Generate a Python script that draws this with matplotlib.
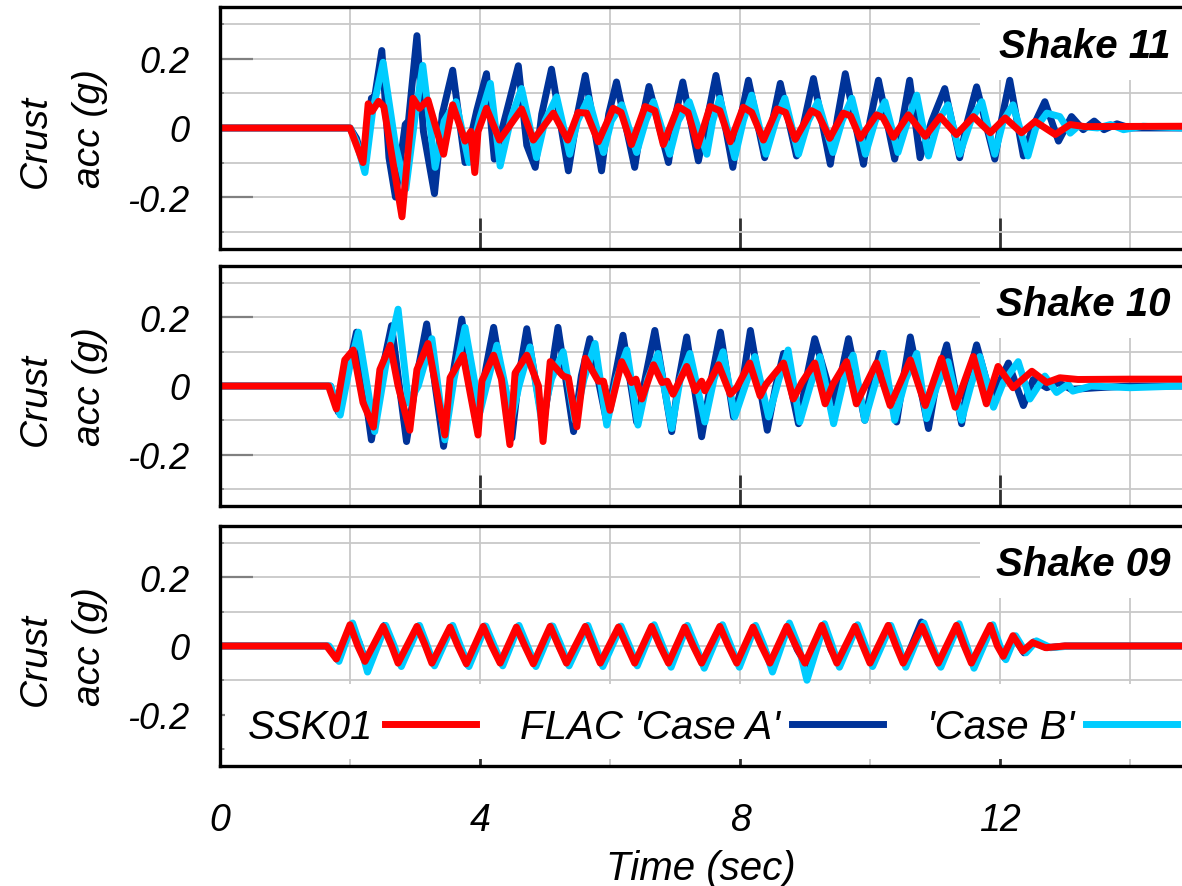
import matplotlib
matplotlib.use("Agg")
import matplotlib.pyplot as plt
from matplotlib.lines import Line2D
from matplotlib.patches import Rectangle

plt.rcParams['font.family'] = ['Liberation Sans', 'DejaVu Sans']
plt.rcParams['axes.unicode_minus'] = False

# (time sec, acceleration g), peaks and troughs
s11_ssk = [(0, 0), (2.0, 0), (2.2, -0.10), (2.28, 0.07), (2.34, 0.048), (2.44, 0.077), (2.52, 0.062),
           (2.80, -0.257), (2.97, 0.086), (3.07, 0.057), (3.2, 0.081), (3.44, -0.076), (3.58, 0.067),
           (3.77, -0.038), (3.86, -0.01), (3.92, -0.129), (3.97, -0.01), (4.1, 0.057), (4.3, -0.035),
           (4.64, 0.055), (4.82, -0.035), (5.13, 0.043), (5.35, -0.035), (5.51, 0.045), (5.64, 0.043),
           (5.82, -0.04), (6.05, 0.057), (6.17, 0.045), (6.33, -0.048), (6.54, 0.062), (6.69, 0.05),
           (6.82, -0.048), (7.05, 0.062), (7.2, 0.045), (7.35, -0.052), (7.54, 0.062), (7.69, 0.05),
           (7.85, -0.04), (8.05, 0.06), (8.18, 0.045), (8.36, -0.035), (8.57, 0.055), (8.7, 0.045),
           (8.85, -0.033), (9.1, 0.05), (9.2, 0.04), (9.38, -0.03), (9.59, 0.043), (9.7, 0.035),
           (9.85, -0.03), (10.1, 0.038), (10.2, 0.03), (10.36, -0.027), (10.59, 0.038), (10.85, -0.024),
           (11.08, 0.033), (11.33, -0.019), (11.59, 0.033), (11.85, -0.014), (12.08, 0.029), (12.33, -0.014),
           (12.54, 0.019), (12.85, -0.019), (13.08, 0.01), (13.3, 0.004), (14.8, 0.005)]
s11_caseA = [(0, 0), (2.0, 0), (2.1, -0.03), (2.23, -0.114), (2.33, 0.086), (2.38, 0.09), (2.49, 0.224),
             (2.6, -0.086), (2.7, -0.2), (2.85, 0.01), (2.9, 0.02), (3.03, 0.267), (3.13, -0.01), (3.3, -0.19),
             (3.42, 0.04), (3.58, 0.167), (3.77, -0.1), (3.95, 0.05), (4.1, 0.157), (4.22, -0.09), (4.4, 0.04),
             (4.59, 0.18), (4.72, -0.05), (4.85, -0.114), (4.95, 0.04), (5.1, 0.17), (5.36, -0.124), (5.5, 0.04),
             (5.62, 0.152), (5.87, -0.124), (5.98, 0.04), (6.1, 0.133), (6.38, -0.114), (6.5, 0.03), (6.6, 0.12),
             (6.9, -0.1), (7.0, 0.03), (7.12, 0.133), (7.36, -0.095), (7.5, 0.03), (7.63, 0.152), (7.89, -0.114),
             (8.0, 0.02), (8.13, 0.138), (8.38, -0.086), (8.5, 0.02), (8.62, 0.129), (8.87, -0.081), (9.0, 0.03),
             (9.13, 0.143), (9.39, -0.105), (9.5, 0.03), (9.62, 0.157), (9.9, -0.105), (10.0, 0.02), (10.13, 0.138),
             (10.38, -0.09), (10.5, 0.02), (10.61, 0.138), (10.77, -0.086), (10.95, 0.02), (11.15, 0.114),
             (11.38, -0.086), (11.5, 0.02), (11.64, 0.119), (11.92, -0.09), (12.02, 0.02), (12.15, 0.138),
             (12.36, -0.081), (12.5, 0.0), (12.69, 0.076), (12.9, -0.038), (13.1, 0.033), (13.28, -0.005),
             (13.45, 0.02), (13.6, -0.005), (13.8, 0.012), (14.0, 0.0), (14.8, 0.0)]
s11_caseB = [(0, 0), (2.0, 0), (2.1, -0.04), (2.23, -0.129), (2.35, 0.05), (2.51, 0.19), (2.7, -0.05),
             (2.86, -0.176), (3.0, 0.03), (3.12, 0.181), (3.31, -0.114), (3.45, 0.02), (3.63, 0.076), (3.83, -0.1),
             (4.0, 0.03), (4.16, 0.129), (4.31, -0.11), (4.48, 0.03), (4.64, 0.114), (4.87, -0.086), (5.0, 0.02),
             (5.18, 0.09), (5.38, -0.076), (5.5, 0.02), (5.67, 0.086), (5.9, -0.071), (6.02, 0.02), (6.18, 0.067),
             (6.41, -0.071), (6.55, 0.02), (6.67, 0.076), (6.92, -0.076), (7.05, 0.02), (7.22, 0.076),
             (7.49, -0.076), (7.58, 0.02), (7.69, 0.086), (7.92, -0.086), (8.05, 0.02), (8.18, 0.095),
             (8.4, -0.076), (8.55, 0.02), (8.69, 0.086), (8.9, -0.076), (9.05, 0.02), (9.2, 0.076), (9.43, -0.071),
             (9.57, 0.02), (9.72, 0.086), (9.93, -0.076), (10.08, 0.02), (10.23, 0.076), (10.43, -0.071),
             (10.58, 0.02), (10.72, 0.095), (10.9, -0.081), (11.05, 0.02), (11.2, 0.067), (11.38, -0.076),
             (11.55, 0.02), (11.72, 0.076), (11.92, -0.076), (12.05, 0.02), (12.2, 0.067), (12.43, -0.081),
             (12.55, 0.0), (12.72, 0.043), (12.92, 0.033), (13.08, -0.015), (13.2, 0.005), (13.5, 0.0),
             (13.7, 0.01), (13.9, -0.005), (14.2, 0.005), (14.8, 0.0)]

s10_ssk = [(0, 0), (1.67, 0), (1.79, -0.067), (1.92, 0.076), (2.05, 0.105), (2.2, -0.048), (2.36, -0.12),
           (2.46, 0.048), (2.62, 0.119), (2.74, 0.0), (2.92, -0.129), (3.03, 0.048), (3.2, 0.124), (3.33, -0.01),
           (3.46, -0.143), (3.54, 0.024), (3.74, 0.09), (3.97, -0.143), (4.03, 0.015), (4.21, 0.09), (4.33, 0.02),
           (4.46, -0.171), (4.54, 0.038), (4.72, 0.09), (4.9, 0.0), (4.97, -0.162), (5.08, 0.071), (5.28, 0.029),
           (5.36, 0.024), (5.49, -0.119), (5.62, 0.081), (5.82, 0.014), (5.9, 0.014), (6.0, -0.071), (6.18, 0.071),
           (6.33, 0.01), (6.4, 0.02), (6.49, -0.038), (6.67, 0.062), (6.8, 0.01), (6.88, 0.014), (6.97, -0.024),
           (7.18, 0.057), (7.31, -0.014), (7.41, 0.014), (7.46, -0.014), (7.67, 0.062), (7.85, -0.024),
           (7.95, -0.005), (8.15, 0.067), (8.31, -0.029), (8.4, 0.005), (8.67, 0.067), (8.82, -0.038), (8.95, 0.01),
           (9.15, 0.067), (9.31, -0.052), (9.43, 0.005), (9.64, 0.071), (9.79, -0.052), (10.1, 0.067),
           (10.31, -0.057), (10.62, 0.076), (10.85, -0.057), (11.1, 0.081), (11.31, -0.062), (11.59, 0.086),
           (11.79, -0.052), (11.97, 0.057), (12.2, -0.005), (12.49, 0.043), (12.72, 0.01), (12.92, 0.024),
           (13.2, 0.019), (14.0, 0.02), (14.8, 0.02)]
s10_caseA = [(0, 0), (1.7, 0), (1.82, -0.076), (1.98, 0.05), (2.1, 0.157), (2.33, -0.157), (2.5, 0.05),
             (2.64, 0.176), (2.87, -0.162), (3.02, 0.02), (3.18, 0.181), (3.44, -0.176), (3.58, 0.03), (3.72, 0.195),
             (3.95, -0.114), (4.06, 0.02), (4.21, 0.171), (4.49, -0.152), (4.6, 0.03), (4.72, 0.167), (4.97, -0.114),
             (5.08, 0.02), (5.2, 0.171), (5.44, -0.133), (5.56, 0.03), (5.69, 0.138), (5.95, -0.105), (6.08, 0.03),
             (6.2, 0.148), (6.41, -0.105), (6.55, 0.03), (6.69, 0.162), (6.95, -0.133), (7.06, 0.02), (7.18, 0.143),
             (7.41, -0.148), (7.56, 0.02), (7.7, 0.157), (7.9, -0.09), (8.03, 0.0), (8.16, 0.162), (8.42, -0.129),
             (8.55, 0.0), (8.67, 0.095), (8.9, -0.11), (9.02, 0.02), (9.15, 0.138), (9.44, -0.05), (9.55, 0.03),
             (9.67, 0.138), (9.92, -0.1), (10.05, 0.02), (10.15, 0.095), (10.41, -0.105), (10.52, 0.03),
             (10.62, 0.143), (10.9, -0.124), (11.04, 0.03), (11.18, 0.12), (11.41, -0.11), (11.52, 0.03),
             (11.64, 0.12), (11.87, -0.038), (12.13, 0.067), (12.36, -0.057), (12.51, 0.019), (12.72, -0.005),
             (12.9, 0.01), (13.1, -0.01), (13.5, -0.005), (14.0, 0.0), (14.8, 0.0)]
s10_caseB = [(0, 0), (1.7, 0), (1.85, -0.085), (2.0, 0.06), (2.13, 0.157), (2.38, -0.133), (2.55, 0.06),
             (2.74, 0.224), (2.9, -0.05), (3.05, 0.0), (3.26, 0.138), (3.46, -0.157), (3.6, 0.02), (3.77, 0.171),
             (4.0, -0.076), (4.1, 0.0), (4.26, 0.119), (4.49, -0.095), (4.6, 0.0), (4.77, 0.114), (4.95, -0.105),
             (5.1, 0.02), (5.28, 0.1), (5.46, -0.1), (5.6, 0.02), (5.77, 0.124), (5.95, -0.114), (6.1, 0.02),
             (6.26, 0.105), (6.43, -0.114), (6.58, 0.02), (6.74, 0.095), (6.95, -0.124), (7.08, 0.02), (7.23, 0.095),
             (7.46, -0.105), (7.6, 0.02), (7.74, 0.1), (7.92, -0.09), (8.08, 0.0), (8.23, 0.086), (8.44, -0.09),
             (8.6, 0.02), (8.74, 0.105), (8.92, -0.105), (9.08, 0.0), (9.23, 0.086), (9.44, -0.11), (9.6, 0.02),
             (9.74, 0.09), (9.92, -0.1), (10.07, 0.0), (10.21, 0.095), (10.38, -0.1), (10.55, 0.02), (10.72, 0.095),
             (10.87, -0.095), (11.03, 0.0), (11.2, 0.071), (11.41, -0.1), (11.55, 0.0), (11.69, 0.086),
             (11.9, -0.062), (12.05, 0.01), (12.28, 0.071), (12.46, -0.038), (12.69, 0.029), (12.87, -0.019),
             (13.05, 0.005), (13.12, -0.015), (13.4, 0.0), (14.0, -0.005), (14.8, 0.0)]

s09_ssk = [(0, 0), (1.64, 0), (1.79, -0.038), (2.0, 0.062), (2.12, 0.0), (2.23, -0.045), (2.51, 0.057),
           (2.64, 0.0), (2.74, -0.05), (3.03, 0.057), (3.15, 0.005), (3.26, -0.05), (3.54, 0.055), (3.66, 0.0),
           (3.79, -0.052), (4.05, 0.057), (4.18, 0.0), (4.31, -0.05), (4.56, 0.055), (4.69, 0.0), (4.82, -0.052),
           (5.08, 0.057), (5.21, 0.0), (5.33, -0.05), (5.62, 0.057), (5.74, 0.0), (5.85, -0.05), (6.13, 0.055),
           (6.26, 0.0), (6.38, -0.05), (6.64, 0.057), (6.77, 0.0), (6.9, -0.05), (7.15, 0.055), (7.28, 0.0),
           (7.41, -0.05), (7.69, 0.057), (7.82, 0.0), (7.95, -0.05), (8.2, 0.055), (8.33, 0.0), (8.46, -0.05),
           (8.72, 0.057), (8.86, 0.0), (9.0, -0.05), (9.26, 0.06), (9.38, 0.0), (9.49, -0.05), (9.77, 0.057),
           (9.89, 0.0), (10.0, -0.05), (10.28, 0.06), (10.4, 0.0), (10.51, -0.05), (10.8, 0.057), (10.93, 0.0),
           (11.05, -0.05), (11.33, 0.06), (11.45, 0.0), (11.56, -0.05), (11.85, 0.06), (11.96, 0.0),
           (12.05, -0.03), (12.2, 0.03), (12.35, -0.015), (12.5, 0.01), (12.7, -0.005), (13.0, 0.0), (14.8, 0.0)]
s09_caseA = [(0, 0), (1.66, 0), (1.81, -0.04), (2.02, 0.06), (2.14, 0.01), (2.25, -0.05), (2.53, 0.06),
             (2.66, 0.0), (2.77, -0.052), (3.05, 0.058), (3.17, 0.0), (3.28, -0.052), (3.56, 0.055), (3.68, 0.005),
             (3.81, -0.055), (4.07, 0.058), (4.2, 0.0), (4.33, -0.05), (4.58, 0.056), (4.71, 0.0), (4.84, -0.053),
             (5.1, 0.058), (5.23, -0.005), (5.35, -0.05), (5.64, 0.057), (5.76, 0.0), (5.87, -0.052),
             (6.15, 0.056), (6.28, 0.0), (6.4, -0.05), (6.66, 0.058), (6.79, 0.0), (6.92, -0.05), (7.17, 0.055),
             (7.3, 0.0), (7.43, -0.052), (7.71, 0.058), (7.84, 0.0), (7.97, -0.05), (8.22, 0.056), (8.35, 0.0),
             (8.48, -0.052), (8.74, 0.058), (8.88, -0.01), (9.02, -0.055), (9.28, 0.06), (9.4, -0.01),
             (9.51, -0.048), (9.79, 0.058), (9.91, 0.0), (10.02, -0.05), (10.3, 0.06), (10.42, 0.0),
             (10.53, -0.05), (10.79, 0.07), (10.95, 0.0), (11.07, -0.055), (11.35, 0.06), (11.47, 0.0),
             (11.58, -0.05), (11.87, 0.06), (11.98, 0.0), (12.07, -0.035), (12.22, 0.025), (12.37, -0.02),
             (12.52, 0.012), (12.72, -0.005), (13.0, 0.0), (14.8, 0.0)]
s09_caseB = [(0, 0), (1.68, 0), (1.83, -0.045), (2.04, 0.067), (2.16, 0.0), (2.27, -0.076), (2.55, 0.06),
             (2.68, 0.0), (2.79, -0.06), (3.07, 0.06), (3.19, 0.0), (3.3, -0.058), (3.58, 0.06), (3.7, 0.0),
             (3.83, -0.06), (4.09, 0.058), (4.22, 0.0), (4.35, -0.058), (4.6, 0.06), (4.73, 0.0), (4.86, -0.06),
             (5.12, 0.058), (5.25, 0.0), (5.37, -0.058), (5.66, 0.06), (5.78, 0.0), (5.89, -0.06), (6.17, 0.058),
             (6.3, 0.0), (6.42, -0.058), (6.68, 0.062), (6.81, 0.0), (6.94, -0.062), (7.19, 0.06), (7.32, 0.0),
             (7.45, -0.065), (7.73, 0.062), (7.86, 0.0), (7.99, -0.062), (8.24, 0.06), (8.37, 0.0), (8.5, -0.076),
             (8.76, 0.067), (8.9, 0.0), (9.03, -0.1), (9.3, 0.065), (9.42, 0.0), (9.53, -0.062), (9.81, 0.062),
             (9.93, 0.0), (10.04, -0.06), (10.32, 0.06), (10.44, 0.0), (10.55, -0.062), (10.83, 0.067),
             (10.96, 0.0), (11.09, -0.062), (11.37, 0.065), (11.49, 0.0), (11.6, -0.065), (11.89, 0.062),
             (12.0, 0.0), (12.09, -0.04), (12.24, 0.03), (12.4, -0.02), (12.56, 0.015), (12.78, -0.005),
             (13.1, 0.0), (14.8, 0.0)]

shake_names = ["Shake 11", "Shake 10", "Shake 09"]
series = [(s11_ssk, s11_caseA, s11_caseB),
          (s10_ssk, s10_caseA, s10_caseB),
          (s09_ssk, s09_caseA, s09_caseB)]
legend_labels = ["SSK01", "FLAC 'Case A'", "'Case B'"]

c_red = "#FF0000"
c_dark = "#003399"
c_cyan = "#00CCFF"
lw = 5.0

fig = plt.figure(figsize=(11.82, 8.87), dpi=100)
boxes = [[0.1861, 0.7182, 0.8139, 0.2728],
         [0.1861, 0.4284, 0.8139, 0.2706],
         [0.1861, 0.1353, 0.8139, 0.2706]]

axes = []
for i, (name, (ssk, ca, cb)) in enumerate(zip(shake_names, series)):
    ax = fig.add_axes(boxes[i])
    ax.set_axisbelow(True)
    for data, col in [(ca, c_dark), (cb, c_cyan), (ssk, c_red)]:
        t = [p[0] for p in data]
        a = [p[1] for p in data]
        ax.plot(t, a, color=col, lw=lw, solid_joinstyle='round', solid_capstyle='round', zorder=2)

    ax.set_xlim(0, 14.8)
    ax.set_ylim(-0.35, 0.35)
    ax.set_xticks([0, 4, 8, 12])
    ax.set_xticks([2, 6, 10, 14], minor=True)
    ax.set_yticks([-0.2, 0, 0.2])
    ax.set_yticks([-0.3, -0.1, 0.1, 0.3], minor=True)
    ax.set_yticklabels(["-0.2", "0", "0.2"], fontsize=26, style='italic')
    ax.grid(True, which='both', color='#C8C8C8', lw=1.3)
    ax.tick_params(axis='x', which='major', direction='in', length=22, width=2,
                   color='#303030', pad=26, labelsize=27)
    ax.tick_params(axis='x', which='minor', length=0)
    ax.tick_params(axis='y', which='major', direction='in', length=24, width=1.6,
                   color='#808080', pad=22)
    ax.tick_params(axis='y', which='minor', direction='in', length=3, width=1.2, color='#808080')
    for s in ['left', 'top', 'bottom']:
        ax.spines[s].set_linewidth(2.4)
        ax.spines[s].set_color('black')
    ax.spines['right'].set_visible(False)

    # white box behind the shake name
    ax.add_patch(Rectangle((0.79, 0.70), 0.21, 0.30, transform=ax.transAxes,
                           facecolor='white', edgecolor='none', zorder=1))
    ax.text(0.988, 0.84, name, transform=ax.transAxes, ha='right', va='center',
            fontsize=29, fontweight='bold', style='italic', zorder=3)

    if i < 2:
        ax.set_xticklabels([])
    else:
        ax.set_xticklabels(["0", "4", "8", "12"], style='italic')
        ax.set_xlabel("Time (sec)", fontsize=29, style='italic', labelpad=8)

    yc = boxes[i][1] + boxes[i][3] / 2
    fig.text(0.053, yc, "Crust\nacc (g)", rotation=90, ha='center', va='center',
             multialignment='left', fontsize=28, style='italic', linespacing=1.65)
    axes.append(ax)

ax3 = axes[2]
ax3.add_patch(Rectangle((0.005, 0.03), 0.995, 0.31, transform=ax3.transAxes,
                        facecolor='white', edgecolor='none', zorder=1))
handles = [Line2D([], [], color=c, lw=lw) for c in (c_red, c_dark, c_cyan)]
leg = ax3.legend(handles, legend_labels, loc='center left', bbox_to_anchor=(0.008, 0.1625),
                 ncol=3, markerfirst=False, frameon=False, borderpad=0, handlelength=2.25,
                 handletextpad=0.3, columnspacing=1.1, prop={'size': 29, 'style': 'italic'})
leg.set_zorder(4)

fig.savefig("out.png", dpi=100)
